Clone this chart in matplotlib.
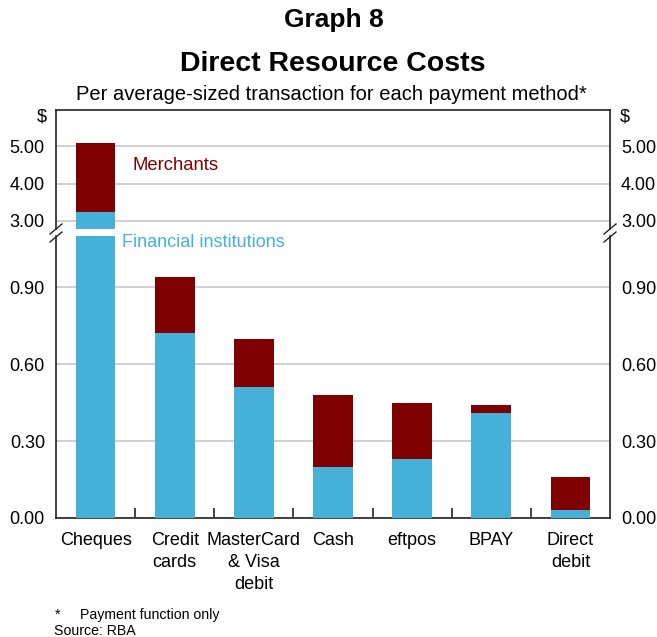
import numpy as np
import matplotlib
matplotlib.use("Agg")
import matplotlib.pyplot as plt
from matplotlib.lines import Line2D

plt.rcParams['font.family'] = ['Liberation Sans', 'DejaVu Sans']

# Data ($ per average-sized transaction)
categories = ["Cheques", "Credit\ncards", "MasterCard\n& Visa\ndebit", "Cash",
              "eftpos", "BPAY", "Direct\ndebit"]
financial = [3.24, 0.72, 0.51, 0.20, 0.23, 0.41, 0.03]
merchants = [1.86, 0.22, 0.19, 0.28, 0.22, 0.03, 0.13]

top_ticks = [3.0, 4.0, 5.0]
bottom_ticks = [0.0, 0.3, 0.6, 0.9]

BLUE = "#45B1D8"
RED = "#7F0000"
GRID = "#C8C8C8"

W, H = 657, 637
fig = plt.figure(figsize=(W / 100, H / 100), dpi=100)

def px(x0, y0, x1, y1):
    # pixel box (top-left origin) -> figure fraction rect
    return [x0 / W, 1 - y1 / H, (x1 - x0) / W, (y1 - y0) / H]

ax_top = fig.add_axes(px(56, 110, 610, 228.5))
ax_bot = fig.add_axes(px(56, 236, 610, 518))

x = np.arange(len(categories))
for ax in (ax_top, ax_bot):
    ax.bar(x, financial, width=0.5, color=BLUE, zorder=3)
    ax.bar(x, merchants, width=0.5, bottom=financial, color=RED, zorder=3)
    ax.set_xlim(-0.5, len(categories) - 0.5)
    for s in ax.spines.values():
        s.set_linewidth(1.2)
        s.set_color("#222222")
    ax.tick_params(axis='y', length=0, labelsize=13, pad=8,
                   right=True, labelright=True, labelleft=True)
    ax.yaxis.grid(True, color=GRID, linewidth=1.2, zorder=0)

ax_top.set_ylim(2.79, 5.98)
ax_top.set_yticks(top_ticks)
ax_top.set_yticklabels([f"{v:.2f}" for v in top_ticks])
ax_top.spines['bottom'].set_visible(False)
ax_top.set_xticks([])

ax_bot.set_ylim(0, 1.1)
ax_bot.set_yticks(bottom_ticks)
ax_bot.set_yticklabels([f"{v:.2f}" for v in bottom_ticks])
ax_bot.spines['top'].set_visible(False)
ax_bot.set_xticks(x)
ax_bot.set_xticklabels(categories, fontsize=13, va='top', linespacing=1.4)
ax_bot.tick_params(axis='x', length=0, pad=10)
ax_bot.set_xticks(np.arange(len(categories) - 1) + 0.5, minor=True)
ax_bot.tick_params(axis='x', which='minor', direction='in', length=7,
                   width=1.2, color="#222222")

# axis break marks
for xb in (56, 610):
    for yb in (229, 237):
        fig.add_artist(Line2D([(xb - 6) / W, (xb + 6) / W],
                              [1 - (yb + 5) / H, 1 - (yb - 5) / H],
                              color="#222222", linewidth=1.0))

# series labels
fig.text(132 / W, 1 - 166 / H, "Merchants", color=RED, fontsize=13.3,
         va='center')
fig.text(122 / W, 1 - 243 / H, "Financial institutions", color=BLUE,
         fontsize=13, va='center')

# units
fig.text(42 / W, 1 - 117 / H, "$", fontsize=13, ha='center', va='center')
fig.text(625 / W, 1 - 117 / H, "$", fontsize=13, ha='center', va='center')

# titles
fig.text(334 / W, 1 - 20 / H, "Graph 8", fontsize=19, fontweight='bold',
         ha='center', va='center')
fig.text(333 / W, 1 - 64 / H, "Direct Resource Costs", fontsize=20.5,
         fontweight='bold', ha='center', va='center')
fig.text(331 / W, 1 - 94 / H,
         "Per average-sized transaction for each payment method*",
         fontsize=14.5, ha='center', va='center')

# footnotes
fig.text(55 / W, 1 - 615 / H, "*", fontsize=10.2, va='center')
fig.text(80 / W, 1 - 615 / H, "Payment function only", fontsize=10.2,
         va='center')
fig.text(54 / W, 1 - 631 / H, "Source: RBA", fontsize=10.2, va='center')

fig.savefig("out.png", dpi=100)
